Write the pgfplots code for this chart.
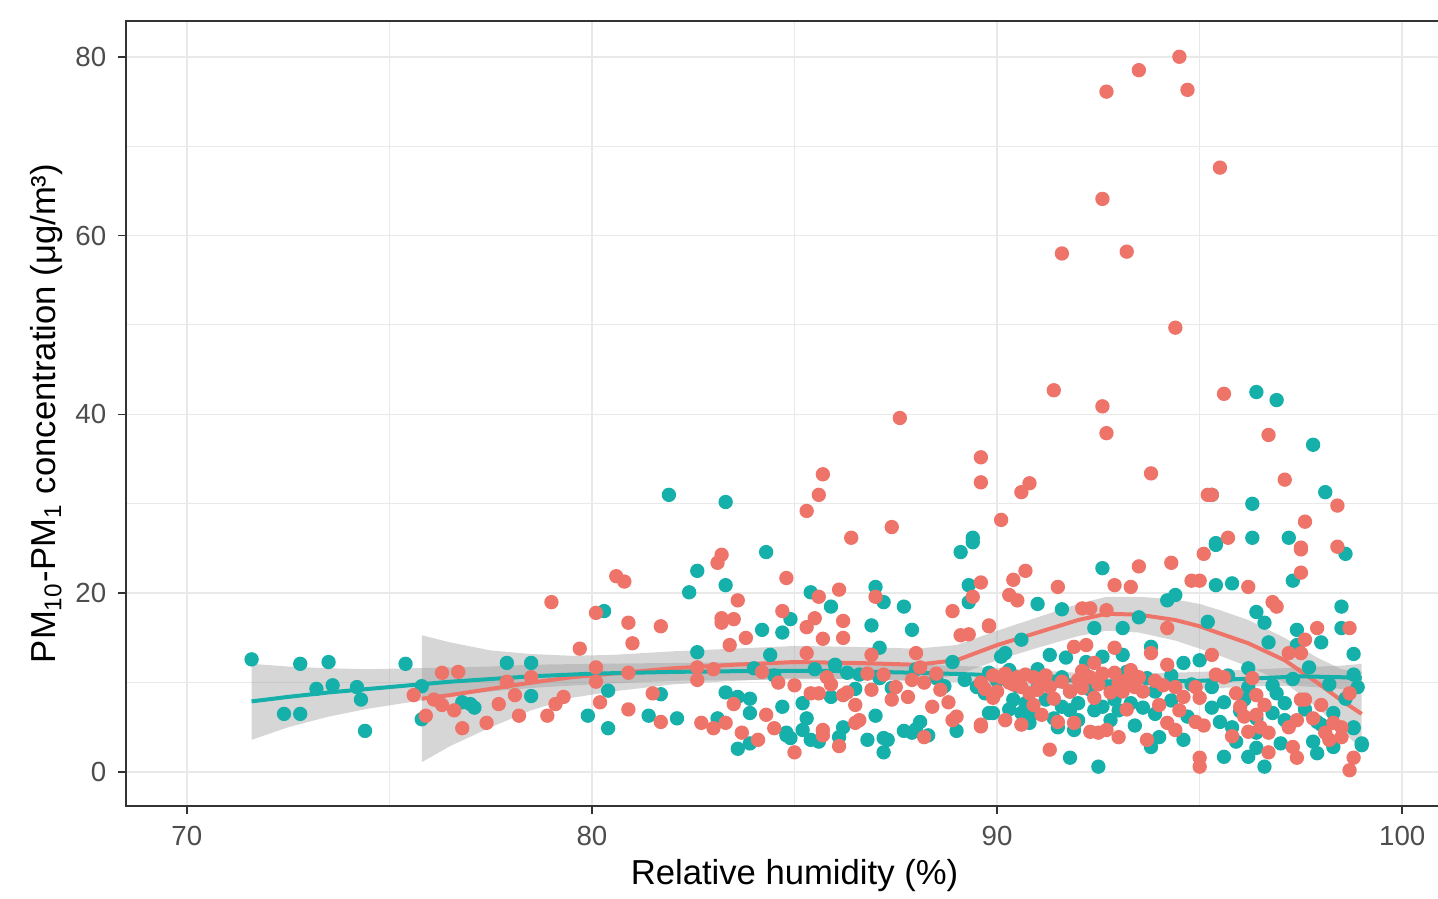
\documentclass[border=0pt]{standalone}
\usepackage{pgfplots}
\pgfplotsset{compat=1.18}
\usepgfplotslibrary{fillbetween}
\usepackage{fontspec}
\setmainfont{Liberation Sans}

\definecolor{tealpt}{RGB}{22,176,170}
\definecolor{salmonpt}{RGB}{238,116,106}
\definecolor{gridgray}{RGB}{233,233,233}
\definecolor{gray20}{RGB}{51,51,51}
\definecolor{gray30}{RGB}{77,77,77}
\definecolor{bandgray}{RGB}{153,153,153}

% teal group: scatter
\pgfplotstableread{
x y
71.6 12.6
72.4 6.5
72.8 6.5
72.8 12.1
73.5 12.3
73.2 9.3
73.6 9.7
74.2 9.5
74.3 8.1
74.4 4.6
75.4 12.1
75.8 9.6
75.8 5.9
76.8 7.8
77.0 7.6
77.1 7.2
77.9 12.2
78.5 12.2
78.5 8.5
79.9 6.3
80.3 18.0
80.4 9.1
80.4 4.9
81.4 6.3
81.7 8.7
81.9 31.0
82.1 6.0
82.4 20.1
82.6 22.5
82.6 13.4
83.1 6.0
83.3 20.9
83.3 8.9
83.3 30.2
83.6 8.4
83.6 2.6
83.9 8.2
83.9 6.6
83.9 3.2
84.0 11.6
84.2 15.9
84.3 24.6
84.4 13.1
84.5 10.8
84.7 15.6
84.7 7.3
84.8 4.1
84.9 17.1
84.8 4.4
84.9 3.8
85.2 7.7
85.2 4.7
85.3 6.0
85.4 20.1
85.4 3.6
85.5 11.5
85.6 3.4
85.9 18.5
85.9 8.4
86.0 12.0
86.1 3.9
86.2 5.0
86.3 11.1
86.5 9.3
86.6 10.9
86.8 3.6
86.9 16.4
87.0 20.7
87.0 6.3
87.1 10.5
87.1 13.9
87.2 19.0
87.2 3.8
87.2 2.2
87.3 3.6
87.4 9.4
87.7 18.5
87.7 4.6
87.9 15.9
87.9 4.4
88.0 4.8
88.0 11.5
88.1 5.6
88.3 4.1
88.5 10.5
88.7 9.6
88.9 12.3
89.0 4.6
89.1 24.6
89.2 10.3
89.3 20.9
89.3 19.0
89.4 25.7
89.4 26.2
89.5 9.5
89.7 8.8
89.8 6.6
89.8 11.1
89.9 6.6
90.0 10.2
90.1 12.9
90.2 13.3
90.3 11.4
90.3 7.0
90.4 8.1
90.5 9.6
90.6 14.8
90.6 6.6
90.7 7.7
90.8 5.5
90.9 6.6
91.0 18.8
91.0 11.5
91.0 9.4
91.2 8.1
91.3 13.1
91.4 10.1
91.4 6.0
91.5 5.0
91.6 18.2
91.6 10.6
91.6 7.3
91.7 12.8
91.8 6.9
91.8 9.0
91.8 1.6
91.9 4.7
92.0 7.7
92.0 5.8
92.2 12.3
92.2 10.8
92.3 9.2
92.4 16.1
92.4 6.9
92.5 10.3
92.5 0.6
92.6 22.8
92.6 12.9
92.6 7.3
92.8 9.5
92.8 5.8
92.9 8.1
93.0 6.9
93.1 13.1
93.1 16.1
93.2 11.2
93.3 7.7
93.4 5.2
93.5 17.3
93.6 7.2
93.7 10.5
93.8 14.0
93.8 2.8
93.9 9.0
93.9 6.5
94.0 3.9
94.2 19.2
94.3 10.8
94.3 8.0
94.4 19.8
94.6 12.2
94.6 3.6
94.7 6.2
94.8 9.8
95.0 12.5
95.2 16.8
95.3 9.5
95.3 7.2
95.3 31.0
95.4 25.4
95.4 20.9
95.4 25.6
95.5 5.6
95.6 1.7
95.6 7.8
95.7 10.8
95.8 21.1
95.8 5.0
95.9 3.4
96.0 6.8
96.1 8.1
96.2 11.6
96.2 9.5
96.2 1.7
96.3 30.0
96.3 26.2
96.4 42.5
96.4 17.9
96.4 6.0
96.4 4.4
96.4 2.7
96.6 16.7
96.6 0.6
96.7 14.5
96.8 6.6
96.8 9.7
96.9 41.6
96.9 8.8
97.0 3.2
97.1 7.7
97.1 5.8
97.2 26.2
97.3 21.4
97.3 10.4
97.4 15.9
97.4 14.2
97.6 7.0
97.7 11.7
97.8 36.6
97.8 3.4
97.9 5.6
97.9 2.1
98.0 14.5
98.0 5.3
98.1 31.3
98.2 9.8
98.3 6.6
98.3 2.8
98.5 18.5
98.5 16.1
98.6 24.4
98.6 8.2
98.8 13.2
98.8 10.9
98.8 4.9
98.8 5.0
98.9 9.5
99.0 3.2
99.0 3.0
}\tealpts

% salmon group: scatter
\pgfplotstableread{
x y
75.9 6.3
76.3 11.1
76.7 11.2
75.6 8.6
76.1 8.1
76.3 7.5
76.6 6.9
76.8 4.9
77.4 5.5
77.7 7.6
77.9 10.1
78.1 8.6
78.2 6.3
78.5 10.6
78.9 6.3
79.1 7.6
79.0 19.0
79.3 8.4
79.7 13.8
80.1 17.8
80.1 11.7
80.1 10.1
80.2 7.8
80.6 21.9
80.8 21.3
80.9 16.7
80.9 11.1
80.9 7.0
81.0 14.4
81.5 8.8
81.7 16.3
81.7 5.6
82.6 11.7
82.6 10.3
82.7 5.5
83.0 4.9
83.0 11.5
83.1 23.4
83.2 24.3
83.2 17.2
83.2 16.7
83.3 5.5
83.4 14.2
83.5 17.1
83.5 7.6
83.6 19.2
83.7 4.4
83.8 15.0
84.1 3.6
84.2 11.2
84.3 6.4
84.5 4.9
84.6 10.0
84.7 18.0
84.8 21.7
85.0 2.2
85.0 9.7
85.3 29.2
85.3 16.2
85.3 13.3
85.4 8.8
85.5 17.2
85.6 31.0
85.6 19.6
85.6 8.8
85.7 33.3
85.7 14.9
85.7 4.7
85.7 4.1
85.8 10.6
85.9 9.8
86.1 20.4
86.1 2.9
86.2 16.9
86.2 15.0
86.2 8.6
86.3 8.9
86.4 26.2
86.5 7.5
86.5 5.5
86.6 5.8
86.8 11.0
86.9 13.1
86.9 9.2
87.0 19.6
87.2 10.9
87.4 27.4
87.4 8.1
87.5 9.5
87.6 39.6
87.8 8.4
87.9 10.3
88.0 13.3
88.1 11.7
88.2 10.0
88.2 3.9
88.4 7.3
88.5 11.0
88.6 9.2
88.8 7.8
88.9 18.0
88.9 5.8
89.0 6.2
89.1 15.3
89.3 15.4
89.4 19.6
89.6 21.2
89.6 35.2
89.6 32.4
89.6 10.0
89.6 5.1
89.6 5.3
89.7 9.3
89.8 16.3
89.8 16.4
89.9 8.3
89.9 10.8
90.0 9.0
90.1 28.2
90.1 10.6
90.2 5.8
90.2 11.0
90.3 19.8
90.3 10.0
90.4 21.5
90.4 9.8
90.5 19.2
90.5 10.6
90.6 31.3
90.6 9.5
90.6 5.3
90.7 22.5
90.7 10.9
90.8 32.3
90.8 8.8
90.9 10.6
90.9 7.5
91.0 9.2
91.1 10.0
91.1 6.4
91.2 10.8
91.3 2.5
91.3 9.5
91.4 42.7
91.4 8.2
91.5 20.7
91.5 5.6
91.6 58.0
91.6 10.1
91.8 9.0
91.9 14.0
91.9 5.5
92.0 10.3
92.1 18.3
92.1 9.4
92.1 11.3
92.2 14.2
92.3 18.3
92.3 10.6
92.3 4.5
92.4 12.2
92.4 8.3
92.5 4.4
92.5 9.8
92.6 64.1
92.6 40.9
92.6 11.0
92.7 76.1
92.7 37.9
92.7 18.1
92.7 4.7
92.8 8.9
92.9 20.9
92.9 13.9
92.9 11.1
93.0 10.0
93.0 3.9
93.1 9.0
93.2 58.2
93.2 10.3
93.2 7.0
93.3 20.7
93.3 11.4
93.4 9.5
93.5 78.5
93.5 23.0
93.5 10.6
93.6 9.0
93.7 3.6
93.8 33.4
93.8 13.3
93.9 10.2
94.0 7.5
94.1 9.7
94.2 16.1
94.2 12.0
94.2 5.5
94.3 23.4
94.4 49.7
94.4 9.5
94.4 4.7
94.5 80.0
94.5 6.9
94.6 8.4
94.7 76.3
94.8 21.4
94.9 9.5
94.9 5.6
95.0 21.4
95.0 8.3
95.0 1.6
95.0 0.6
95.1 24.4
95.1 5.2
95.2 31.0
95.3 31.0
95.3 13.1
95.4 10.9
95.5 67.6
95.6 42.3
95.6 10.6
95.7 26.2
95.8 4.0
95.9 8.8
96.0 7.3
96.1 6.2
96.2 20.7
96.2 4.5
96.3 10.5
96.4 8.6
96.4 6.4
96.5 5.0
96.6 7.5
96.7 37.7
96.7 4.4
96.7 2.2
96.8 19.0
96.9 18.5
97.1 32.7
97.2 13.3
97.2 5.0
97.3 2.8
97.4 5.8
97.4 1.6
97.5 25.1
97.5 24.9
97.5 22.3
97.5 13.3
97.5 8.1
97.6 28.0
97.6 14.8
97.6 8.1
97.8 6.0
97.9 16.1
98.0 7.5
98.1 4.4
98.2 3.6
98.3 5.5
98.4 29.8
98.4 25.2
98.5 5.0
98.5 3.9
98.7 16.1
98.7 8.8
98.7 0.2
98.8 1.6
}\salmonpts

% loess fits with standard-error band
\pgfplotstableread{
x y lo hi
71.6 7.9 3.6 12.1
72.5 8.4 5.0 11.8
73.5 8.9 6.2 11.6
74.5 9.3 7.1 11.5
75.5 9.7 7.8 11.6
76.5 10.1 8.5 11.7
77.5 10.4 9.0 11.8
78.5 10.7 9.4 12.0
80.0 11.0 9.8 12.1
82.0 11.2 10.2 12.2
84.0 11.3 10.3 12.3
86.0 11.3 10.4 12.2
88.0 11.1 10.2 12.0
89.5 10.9 10.0 11.8
90.5 10.6 9.7 11.5
92.0 10.2 9.3 11.1
93.5 10.1 9.2 11.0
95.0 10.2 9.3 11.2
96.5 10.5 9.6 11.5
97.5 10.7 9.6 11.7
98.5 10.6 9.3 11.9
99.0 10.5 8.9 12.1
}\tealfit

\pgfplotstableread{
x y lo hi
75.8 8.2 1.1 15.3
76.5 8.6 2.9 14.5
77.5 9.3 5.0 13.6
78.5 10.0 6.9 13.2
79.5 10.6 8.3 13.0
80.5 11.0 9.0 13.1
82.0 11.6 9.8 13.5
83.5 12.0 10.2 13.8
85.0 12.3 10.5 14.1
86.5 12.2 10.4 14.0
88.0 12.0 10.2 13.8
89.0 12.5 10.8 14.2
90.0 14.2 12.5 15.8
91.0 15.6 13.9 17.3
92.0 17.0 15.2 18.8
92.7 17.7 15.8 19.6
93.5 17.6 15.6 19.6
94.4 17.0 14.7 19.3
95.0 16.3 13.8 18.8
95.5 15.5 13.0 18.1
96.2 14.4 11.8 17.0
97.1 12.5 10.0 15.0
97.9 10.0 7.2 12.8
98.5 8.0 4.7 11.5
99.0 6.5 2.5 11.2
}\salmonfit

\begin{document}
\begin{tikzpicture}
\begin{axis}[
    scale only axis,
    width=401.1pt, height=235.5pt,
    xmin=68.5, xmax=101.5,
    ymin=-3.8, ymax=84,
    xtick={70,80,90,100},
    minor xtick={75,85,95},
    ytick={0,20,40,60,80},
    minor ytick={10,30,50,70},
    xtick pos=left, ytick pos=left,
    tick align=outside,
    major tick length=2.4pt,
    minor tick length=0pt,
    every tick/.style={gray20, line width=0.5pt},
    grid=both,
    major grid style={gridgray, line width=0.5pt},
    minor grid style={gridgray, line width=0.3pt},
    axis line style={gray20, line width=0.7pt},
    /pgf/number format/assume math mode=true,
    tick label style={font=\fontsize{8.3}{10}\selectfont, text=gray30},
    label style={font=\fontsize{10.4}{12.5}\selectfont},
    xlabel={Relative humidity (\%)},
    ylabel={PM\textsubscript{10}-PM\textsubscript{1} concentration (μg/m³)},
    xlabel style={at={(axis description cs:0.5,-0.088)}, anchor=center},
    ylabel style={at={(axis description cs:-0.0591,0.5)}, anchor=center},
    clip=true,
]
  \addplot[only marks, mark=*, mark size=1.95pt, tealpt] table[x=x,y=y] {\tealpts};
  \addplot[only marks, mark=*, mark size=1.95pt, salmonpt] table[x=x,y=y] {\salmonpts};

  \addplot[name path=shi, draw=none, forget plot] table[x=x,y=hi] {\salmonfit};
  \addplot[name path=slo, draw=none, forget plot] table[x=x,y=lo] {\salmonfit};
  \addplot[bandgray, fill opacity=0.4, draw=none] fill between[of=shi and slo];
  \addplot[salmonpt, line width=1.2pt] table[x=x,y=y] {\salmonfit};

  \addplot[name path=thi, draw=none, forget plot] table[x=x,y=hi] {\tealfit};
  \addplot[name path=tlo, draw=none, forget plot] table[x=x,y=lo] {\tealfit};
  \addplot[bandgray, fill opacity=0.4, draw=none] fill between[of=thi and tlo];
  \addplot[tealpt, line width=1.2pt] table[x=x,y=y] {\tealfit};
\end{axis}
\pgfresetboundingbox
\path[use as bounding box] (-37.8pt,-27.9pt) rectangle (393.6pt,241.8pt);
\end{tikzpicture}
\end{document}
